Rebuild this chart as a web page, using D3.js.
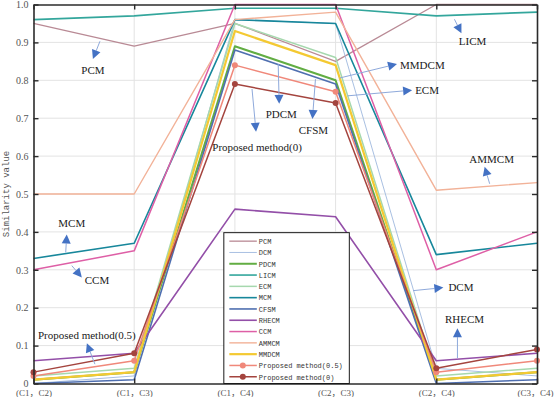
<!DOCTYPE html>
<html>
<head>
<meta charset="utf-8">
<script src="https://cdn.jsdelivr.net/npm/d3@7"></script>
<style>
  body { margin: 0; background: #fff; }
  svg { display: block; }
</style>
</head>
<body>
<div class="chart"></div>
<script>
// DATA ------------------------------------
const categories = ["(C1，C2)", "(C1，C3)", "(C1，C4)", "(C2，C3)", "(C2，C4)", "(C3，C4)"];
const yTicks = [0, 0.1, 0.2, 0.3, 0.4, 0.5, 0.6, 0.7, 0.8, 0.9, 1];

const PCM   = [0.95, 0.89, 0.95, 0.85, 1.00, 1.00];
const DCM   = [0.00, 0.02, 0.96, 0.95, 0.04, 0.02];
const PDCM  = [0.01, 0.03, 0.89, 0.80, 0.01, 0.03];
const LICM  = [0.96, 0.97, 0.99, 0.99, 0.97, 0.98];
const ECM   = [0.02, 0.04, 0.95, 0.86, 0.02, 0.04];
const MCM   = [0.33, 0.37, 0.96, 0.95, 0.34, 0.37];
const CFSM  = [0.00, 0.01, 0.88, 0.79, 0.00, 0.01];
const RHECM = [0.06, 0.08, 0.46, 0.44, 0.06, 0.08];
const CCM   = [0.30, 0.35, 1.00, 1.00, 0.30, 0.40];
const AMMCM = [0.50, 0.50, 0.96, 0.98, 0.51, 0.53];
const MMDCM = [0.01, 0.03, 0.93, 0.84, 0.01, 0.03];
const PM05  = [0.02, 0.06, 0.84, 0.77, 0.03, 0.06];
const PM0   = [0.03, 0.08, 0.79, 0.74, 0.04, 0.09];

const seriesNames = ["PCM", "DCM", "PDCM", "LICM", "ECM", "MCM", "CFSM", "RHECM", "CCM", "AMMCM", "MMDCM",
                     "Proposed method(0.5)", "Proposed method(0)"];
const seriesValues = [PCM, DCM, PDCM, LICM, ECM, MCM, CFSM, RHECM, CCM, AMMCM, MMDCM, PM05, PM0];
const seriesColors = ["#b98a95", "#a9c0e2", "#62ad43", "#33a69c", "#a6d8ae", "#17879b", "#4f6fb0",
                      "#934fa8", "#de5fa6", "#f2b298", "#f4c932", "#f0887a", "#a4443e"];
const seriesWidths = [1.3, 1, 2, 1.6, 1.5, 1.6, 1.6, 1.6, 1.5, 1.4, 2.2, 1.5, 1.5];
const seriesMarkers = [false, false, false, false, false, false, false, false, false, false, false, true, true];

// annotations: [text, tail idx, tail value, tip idx, tip value, label idx, label value, anchor]
const notes = [
  ["PCM", 0.66, 0.903, 0.59, 0.856, 0.59, 0.827, "middle"],
  ["LICM", 4.18, 0.961, 4.25, 0.924, 4.36, 0.903, "middle"],
  ["MMDCM", 3.04, 0.806, 3.61, 0.843, 3.64, 0.840, "start"],
  ["ECM", 3.12, 0.759, 3.76, 0.774, 3.79, 0.774, "start"],
  ["PDCM", 2.43, 0.843, 2.44, 0.738, 2.46, 0.711, "middle"],
  ["CFSM", 2.80, 0.803, 2.77, 0.698, 2.78, 0.669, "middle"],
  ["Proposed method(0)", 2.17, 0.777, 2.21, 0.664, 2.22, 0.624, "middle"],
  ["AMMCM", 4.53, 0.527, 4.48, 0.572, 4.55, 0.592, "middle"],
  ["DCM", 3.77, 0.245, 4.07, 0.253, 4.12, 0.253, "start"],
  ["RHECM", 4.21, 0.067, 4.21, 0.146, 4.28, 0.169, "middle"],
  ["MCM", 0.32, 0.346, 0.33, 0.393, 0.38, 0.422, "middle"],
  ["CCM", 0.38, 0.311, 0.48, 0.280, 0.63, 0.274, "middle"],
  ["Proposed method(0.5)", 0.61, 0.051, 0.53, 0.106, 0.53, 0.127, "middle"]
];

// CHART INIT ------------------------------
const margin = ({top: 4.5, right: 17, bottom: 13.5, left: 33.5});
const width = 554 - margin.left - margin.right;
const height = 397 - margin.top - margin.bottom;

const svg = d3.select(".chart")
    .append("svg")
    .attr("width", 554)
    .attr("height", 397)
    .append("g")
    .attr("transform", "translate(" + margin.left + "," + margin.top + ")");

const xScale = d3.scalePoint().domain(categories).range([0, width]);
const xIdx = d3.scaleLinear().domain([0, categories.length - 1]).range([0, width]);
const yScale = d3.scaleLinear().domain([0, 1]).range([height, 0]);

// grid
svg.append("g")
  .selectAll("line.gy")
  .data(yTicks.slice(1, -1))
  .join("line")
  .attr("x1", 0).attr("x2", width)
  .attr("y1", d => yScale(d)).attr("y2", d => yScale(d))
  .attr("stroke", "#e3e3e3").attr("stroke-width", 1);
svg.append("g")
  .selectAll("line.gx")
  .data(categories.slice(1, -1))
  .join("line")
  .attr("x1", d => xScale(d)).attr("x2", d => xScale(d))
  .attr("y1", 0).attr("y2", height)
  .attr("stroke", "#e3e3e3").attr("stroke-width", 1);

// series lines
const line = d3.line()
    .x((d, i) => xScale(categories[i]))
    .y(d => yScale(d));

seriesValues.forEach((vals, s) => {
  svg.append("path")
    .datum(vals)
    .attr("fill", "none")
    .attr("stroke", seriesColors[s])
    .attr("stroke-width", seriesWidths[s])
    .attr("stroke-linejoin", "round")
    .attr("d", line);
  if (seriesMarkers[s]) {
    svg.append("g").selectAll("circle")
      .data(vals)
      .join("circle")
      .attr("cx", (d, i) => xScale(categories[i]))
      .attr("cy", d => yScale(d))
      .attr("r", 3)
      .attr("fill", seriesColors[s]);
  }
});

// axes (box style, ticks pointing inward)
const axisFont = "'Liberation Serif', 'Noto Sans CJK SC', serif";
const xAxis = d3.axisBottom(xScale).tickSizeInner(-5).tickSizeOuter(0).tickPadding(6);
const yAxis = d3.axisLeft(yScale).tickValues(yTicks).tickFormat(d => d === 0 ? "0" : d3.format(".1f")(d))
    .tickSizeInner(-5).tickSizeOuter(0).tickPadding(5);

const gx = svg.append("g").attr("class", "axis x-axis")
    .attr("transform", `translate(0, ${height})`).call(xAxis);
const gy = svg.append("g").attr("class", "axis y-axis").call(yAxis);
svg.append("g").attr("transform", `translate(${width}, 0)`)
    .call(d3.axisRight(yScale).tickValues(yTicks).tickSizeInner(-5).tickSizeOuter(0).tickFormat(""));
svg.append("g")
    .call(d3.axisTop(xScale).tickSizeInner(-5).tickSizeOuter(0).tickFormat(""));

svg.selectAll(".domain").attr("stroke", "#2b2b2b").attr("stroke-width", 1.6);
svg.selectAll(".tick line").attr("stroke", "#2b2b2b").attr("stroke-width", 1.4);
gx.selectAll("text").attr("font-family", axisFont).attr("font-size", "9px").attr("fill", "#555");
// last category label kept inside the picture
gx.selectAll(".tick text").filter(d => d === categories[categories.length - 1])
  .attr("text-anchor", "end").attr("dx", 16);
gy.selectAll("text").attr("font-family", axisFont).attr("font-size", "10px").attr("fill", "#555");

svg.append("text")
  .attr("transform", `translate(${-25}, ${height / 2}) rotate(-90)`)
  .attr("text-anchor", "middle")
  .attr("font-family", "'Liberation Mono', monospace")
  .attr("font-size", "9px")
  .attr("fill", "#555")
  .text("Similarity value");

// annotations
const noteFont = "'Liberation Serif', 'Times New Roman', serif";
notes.forEach(n => {
  const x0 = xIdx(n[1]), y0 = yScale(n[2]), x1 = xIdx(n[3]), y1 = yScale(n[4]);
  const a = Math.atan2(y1 - y0, x1 - x0);
  const L = 9, W = 4.5;
  const bx = x1 - L * Math.cos(a), by = y1 - L * Math.sin(a);
  svg.append("line")
    .attr("x1", x0).attr("y1", y0).attr("x2", bx).attr("y2", by)
    .attr("stroke", "#8ea9db").attr("stroke-width", 1);
  svg.append("path")
    .attr("d", d3.line()([
      [x1, y1],
      [bx + W * Math.sin(a), by - W * Math.cos(a)],
      [bx - W * Math.sin(a), by + W * Math.cos(a)]
    ]) + "Z")
    .attr("fill", "#4472c4");
  svg.append("text")
    .attr("x", xIdx(n[5])).attr("y", yScale(n[6]))
    .attr("dy", "0.35em")
    .attr("text-anchor", n[7])
    .attr("font-family", noteFont)
    .attr("font-size", "11px")
    .attr("fill", "#1a1a1a")
    .text(n[0]);
});

// legend
const legX = xIdx(1.89), legY = yScale(0.398);
const legW = 125.5, rowH = 11.3;
const leg = svg.append("g").attr("transform", `translate(${legX}, ${legY})`);
leg.append("rect")
  .attr("width", legW).attr("height", height - legY)
  .attr("fill", "#fff").attr("stroke", "#1a1a1a").attr("stroke-width", 1);
seriesNames.forEach((name, s) => {
  const yy = 8.5 + s * rowH;
  leg.append("line")
    .attr("x1", 5.5).attr("x2", 33).attr("y1", yy).attr("y2", yy)
    .attr("stroke", seriesColors[s]).attr("stroke-width", seriesWidths[s]);
  if (seriesMarkers[s]) {
    leg.append("circle").attr("cx", 19).attr("cy", yy).attr("r", 3).attr("fill", seriesColors[s]);
  }
  leg.append("text")
    .attr("x", 35).attr("y", yy).attr("dy", "0.35em")
    .attr("font-family", "'Liberation Mono', monospace")
    .attr("font-size", "8px")
    .attr("textLength", name.length * 4.2)
    .attr("lengthAdjust", "spacingAndGlyphs")
    .attr("fill", "#333")
    .text(name);
});
</script>
</body>
</html>
